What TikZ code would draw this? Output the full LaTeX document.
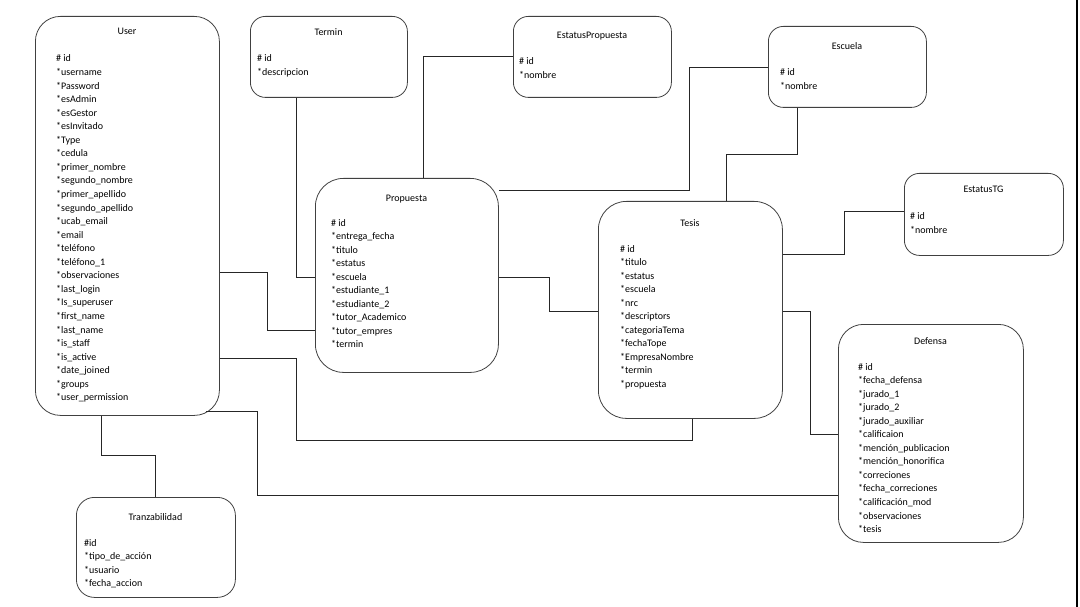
\documentclass[tikz,border=0pt]{standalone}
\usepackage{fontspec}
\setmainfont{Carlito}
\usetikzlibrary{calc}
\newcommand\fieldlist[4]{%
  \foreach \t [count=\i from 0] in {#4} {\node[fld] (#1-\i) at (#2, #3+\i*13.55) {\t};}}
\begin{document}
\begin{tikzpicture}[x=1pt,y=-1pt,
  ent/.style={draw=black!75, line width=0.8pt, rounded corners=#1, anchor=north west, inner sep=0pt},
  ttl/.style={font=\fontsize{10}{12}\selectfont, inner sep=0pt, anchor=base},
  fld/.style={font=\fontsize{10}{12}\selectfont, inner sep=0pt, anchor=base west},
  conn/.style={draw=black!85, line width=0.8pt}]
\useasboundingbox (0,0) rectangle (1080,607);

% entities
\node[ent=25, minimum width=184pt, minimum height=399pt] (User) at (35,16) {};
\node[ent=15, minimum width=157pt, minimum height=81pt] (Termin) at (250,16) {};
\node[ent=15, minimum width=158pt, minimum height=81pt] (EstP) at (513,16) {};
\node[ent=15, minimum width=158pt, minimum height=81pt] (Escuela) at (768,26) {};
\node[ent=15, minimum width=159pt, minimum height=82pt] (EstTG) at (904,173) {};
\node[ent=28, minimum width=183pt, minimum height=194pt] (Propuesta) at (315,178) {};
\node[ent=28, minimum width=184pt, minimum height=217pt] (Tesis) at (598,201) {};
\node[ent=25, minimum width=185pt, minimum height=218pt] (Defensa) at (838,324) {};
\node[ent=18, minimum width=159pt, minimum height=100pt] (Tranz) at (76,497) {};

% titles
\node[ttl] (User-t) at (127,35) {User};
\node[ttl] (Termin-t) at (328.5,36) {Termin};
\node[ttl] (EstP-t) at (592,39) {EstatusPropuesta};
\node[ttl] (Escuela-t) at (847,50) {Escuela};
\node[ttl] (EstTG-t) at (983.5,193) {EstatusTG};
\node[ttl] (Propuesta-t) at (406.5,201) {Propuesta};
\node[ttl] (Tesis-t) at (690,226) {Tesis};
\node[ttl] (Defensa-t) at (930.5,344) {Defensa};
\node[ttl] (Tranz-t) at (155.5,520) {Tranzabilidad};

% fields
\fieldlist{User}{56}{62}{\# id,*username,*Password,*esAdmin,*esGestor,*esInvitado,*Type,*cedula,*primer\_nombre,*segundo\_nombre,*primer\_apellido,*segundo\_apellido,*ucab\_email,*email,*teléfono,*teléfono\_1,*observaciones,*last\_login,*Is\_superuser,*first\_name,*last\_name,*is\_staff,*is\_active,*date\_joined,*groups,*user\_permission}
\fieldlist{Termin}{257}{62}{\# id,*descripcion}
\fieldlist{EstP}{519}{65}{\# id,*nombre}
\fieldlist{Escuela}{780}{76}{\# id,*nombre}
\fieldlist{EstTG}{910}{220}{\# id,*nombre}
\fieldlist{Propuesta}{331}{226}{\# id,*entrega\_fecha,*titulo,*estatus,*escuela,*estudiante\_1,*estudiante\_2,*tutor\_Academico,*tutor\_empres,*termin}
\fieldlist{Tesis}{620}{252}{\# id,*titulo,*estatus,*escuela,*nrc,*descriptors,*categoriaTema,*fechaTope,*EmpresaNombre,*termin,*propuesta}
\fieldlist{Defensa}{858}{370}{\# id,*fecha\_defensa,*jurado\_1,*jurado\_2,*jurado\_auxiliar,*calificaion,*mención\_publicacion,*mención\_honorifica,*correciones,*fecha\_correciones,*calificación\_mod,*observaciones,*tesis}
\fieldlist{Tranz}{84}{546}{\#id,*tipo\_de\_acción,*usuario,*fecha\_accion}

% connectors
\draw[conn] ($(Termin.south west)+(46,0)$) |- ($(Propuesta.north west)+(0,99)$);
\draw[conn] ($(Propuesta.north west)+(108,0)$) |- ($(EstP.north west)+(0,40)$);
\draw[conn] ($(Propuesta.north east)+(0,12)$) -- ++(191,0) |- ($(Escuela.north west)+(0,41)$);
\draw[conn] ($(Escuela.south west)+(29,0)$) -- ++(0,47) -| ($(Tesis.north west)+(128,0)$);
\draw[conn] ($(Tesis.north east)+(0,53)$) -- ++(62,0) |- ($(EstTG.north west)+(0,38)$);
\draw[conn] ($(Tesis.north east)+(0,110)$) -- ++(28,0) |- ($(Defensa.north west)+(0,110)$);
\draw[conn] ($(Propuesta.north east)+(0,99)$) -- ++(51,0) |- ($(Tesis.north west)+(0,110)$);
\draw[conn] ($(User.north east)+(0,256)$) -- ++(48,0) |- ($(Propuesta.north west)+(0,152)$);
\draw[conn] ($(User.north east)+(0,342)$) -- ++(77,0) -- ++(0,82) -| ($(Tesis.south west)+(94,0)$);
\draw[conn] ($(User.south east)+(-14,-4)$) -- ++(52,0) |- ($(Defensa.north west)+(0,171)$);
\draw[conn] ($(User.south west)+(66,0)$) -- ++(0,40) -| ($(Tranz.north west)+(79,0)$);

% right page edge
\coordinate (edgeTop) at (1077,0);
\coordinate (edgeBot) at (1077,607);
\draw[line width=1.6pt] (edgeTop) -- (edgeBot);
\end{tikzpicture}
\end{document}
